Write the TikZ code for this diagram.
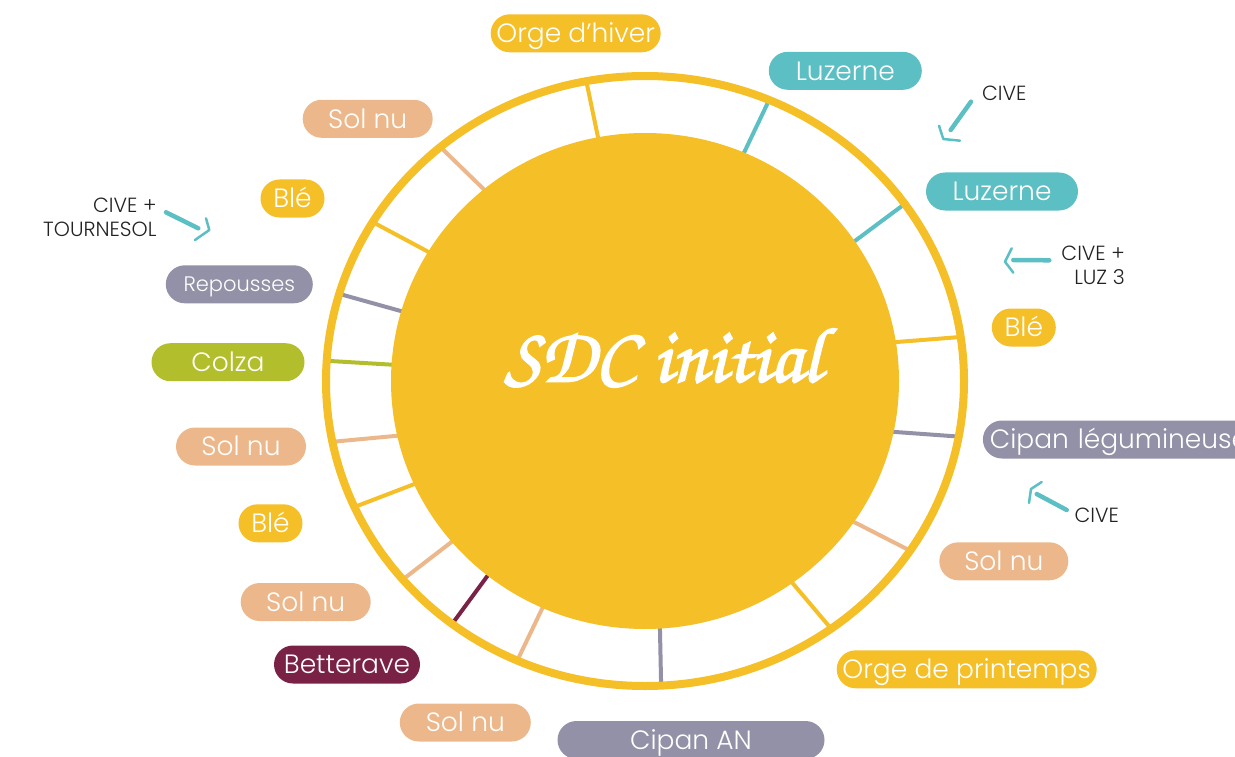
\documentclass[tikz,border=0pt]{standalone}
\usepackage{fontspec}
\setmainfont{Poppins Light}
\newfontfamily\sdcfont[FakeBold=2.2]{texgyrechorus-mediumitalic.otf}
\usetikzlibrary{positioning}
\definecolor{sdcyellow}{HTML}{F5BF27}
\definecolor{sdcteal}{HTML}{5CBFC4}
\definecolor{sdctan}{HTML}{ECB88B}
\definecolor{sdcgrey}{HTML}{9391A7}
\definecolor{sdcolive}{HTML}{B3BE2D}
\definecolor{sdcmaroon}{HTML}{7A2246}
\definecolor{sdcdark}{HTML}{222222}
\tikzset{
    pill/.style = {rounded corners=19pt, minimum height=38pt, inner sep=0pt, text height=18.5pt, text depth=0pt, text=white, font=\fontsize{26.5}{30}\selectfont},
    note/.style = {inner sep=0pt, text=sdcdark, align=right, font=\fontsize{20.5}{24}\selectfont},
}
\tikzset{
    divider/.style = {line width=4pt},
    ring/.style = {draw=sdcyellow, line width=8pt},
    cive arrow/.style = {draw=sdcteal, line width=4.5pt, line cap=round},
    cive head/.style = {draw=sdcteal, line width=2.5pt, line cap=round, line join=round},
}

\begin{document}
\begin{tikzpicture}[x=1pt, y=-1pt]
            \useasboundingbox (0,0) rectangle (1235,757);

            \begin{scope}[shift={(645,381)}]
                \foreach \a/\b/\c in {100.6/100.6/sdcyellow, 67.2/67.1/sdcteal, 34.2/35.5/sdcteal, 9.3/8.3/sdcyellow,
                        -12.3/-10.5/sdcgrey, -35.1/-33.8/sdctan, -54.8/-54.3/sdcyellow, -86.5/-87.1/sdcgrey,
                        -113.7/-113.6/sdctan, -128.4/-127.2/sdcmaroon, -139.4/-139.4/sdctan, -155.2/-155.6/sdcyellow,
                        -166.8/-168.5/sdctan, 176.2/176.2/sdcolive, 163.6/163.4/sdcgrey, 148.4/148.6/sdcyellow, 129/129.9/sdctan}
                    \draw[divider, draw=\c] (\a:240pt and 234pt) -- (\b:319pt and 305pt);
                \fill[sdcyellow] (0,0) ellipse [x radius=254pt, y radius=248pt];
                \draw[ring] (0,0) ellipse [x radius=319pt, y radius=305pt];
            \end{scope}

            \node[text=white, font=\sdcfont\fontsize{78}{90}\selectfont] (sdc) at (663,358) {SDC initial};

            \node[pill, fill=sdcyellow, minimum width=170pt] (orgehiver) at (575.7,33.3) {Orge d'hiver};
            \node[pill, fill=sdcteal, minimum width=153pt] (luzA) at (845.3,70.8) {Luzerne};
            \node[pill, fill=sdcteal, minimum width=152pt] (luzB) at (1002,191.5) {Luzerne};
            \node[pill, fill=sdcyellow, minimum width=64pt] (bleA) at (1023.8,327.5) {Blé};
            \node[pill, fill=sdcgrey, anchor=west, inner xsep=7pt, text width=262pt, align=left] (cipanleg) at (982.7,439.5) {\mbox{Cipan légumineuse}};
            \node[pill, fill=sdctan, minimum width=129pt] (solnuA) at (1003.8,561.3) {Sol nu};
            \node[pill, fill=sdcyellow, minimum width=260pt] (orgeprint) at (966.7,669.3) {Orge de printemps};
            \node[pill, fill=sdcgrey, minimum width=267pt] (cipanAN) at (691,740) {Cipan AN};
            \node[pill, fill=sdctan, minimum width=131pt] (solnuB) at (465.3,722.5) {Sol nu};
            \node[pill, fill=sdcmaroon, minimum width=146pt] (betterave) at (347,664.5) {Betterave};
            \node[pill, fill=sdctan, minimum width=130pt] (solnuC) at (305.7,602) {Sol nu};
            \node[pill, fill=sdcyellow, minimum width=64pt] (bleB) at (270.5,523.3) {Blé};
            \node[pill, fill=sdctan, minimum width=130pt] (solnuD) at (241,446.5) {Sol nu};
            \node[pill, fill=sdcolive, minimum width=153pt] (colza) at (228,362.2) {Colza};
            \node[pill, fill=sdcgrey, minimum width=147pt, text height=15pt, font=\fontsize{21}{24}\selectfont] (repousses) at (239.3,284.3) {Repousses};
            \node[pill, fill=sdcyellow, minimum width=64pt] (bleC) at (292.5,198.5) {Blé};
            \node[pill, fill=sdctan, minimum width=130pt] (solnuE) at (367.7,118.8) {Sol nu};

            \node[note, anchor=base] (civeA) at (1004.3,100.7) {CIVE};
            \node[note, anchor=east] (civeluz) at (1125,265) {CIVE +\\LUZ 3};
            \node[note, anchor=base] (civeB) at (1096.7,522.7) {CIVE};
            \node[note, anchor=east] (civetourn) at (156.7,217) {CIVE +\\TOURNESOL};

            \coordinate (a1) at (971,101.7);
            \coordinate (a2) at (950.7,130);
            \coordinate (b1) at (1049.3,260.3);
            \coordinate (b2) at (1013.3,260);
            \coordinate (c1) at (1066.7,510);
            \coordinate (c2) at (1036.7,494);
            \coordinate (d1) at (166,212.3);
            \coordinate (d2) at (198.3,228.3);

            \draw[cive arrow] (a1) -- (a2);
            \draw[cive head] (939,125.7) -- (943.3,139) -- (960,140.7);
            \draw[cive arrow] (b1) -- (b2);
            \draw[cive head] (1011.7,248.3) -- (1005,261.7) -- (1013.3,272.7);
            \draw[cive arrow] (c1) -- (c2);
            \draw[cive head] (1041.7,482) -- (1031,489) -- (1029,503);
            \draw[cive arrow] (d1) -- (d2);
            \draw[cive head] (206,218.3) -- (209.3,230) -- (195,240);
        \end{tikzpicture}
\end{document}
